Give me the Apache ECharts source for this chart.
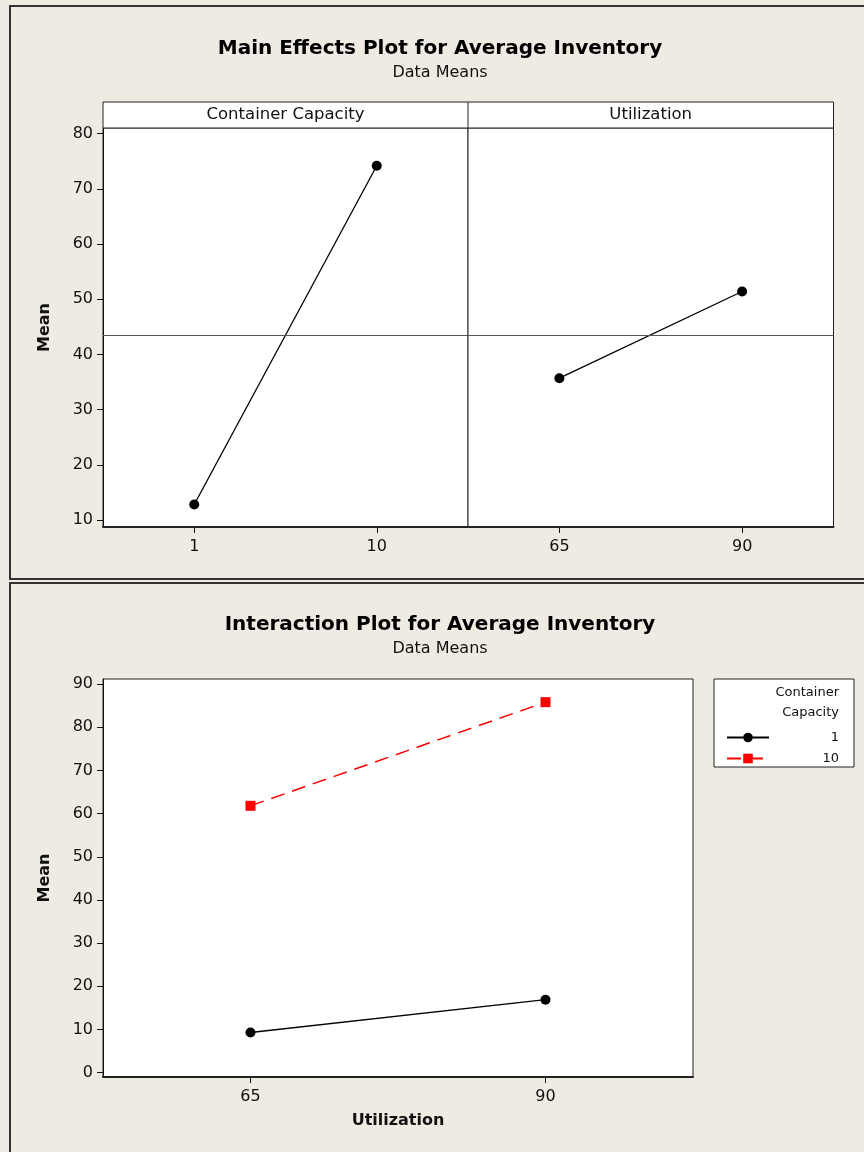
<!DOCTYPE html>
<html>
<head>
<meta charset="utf-8">
<script src="https://cdn.jsdelivr.net/npm/echarts@6/dist/echarts.min.js"></script>
<style>
html,body{margin:0;padding:0;background:#EFEBE2;}
#chart{width:864px;height:1152px;}
</style>
</head>
<body>
<div id="chart"></div>
<script>
// ---- data ----
const capacityLevels = ['1', '10'];
const capacityMeans = [12.8, 74.2];
const utilLevels = ['65', '90'];
const utilMeans = [35.7, 51.4];
const grandMean = 43.4;
const interLevels = ['65', '90'];
const interCap1 = [9.3, 16.9];
const interCap10 = [61.8, 85.8];
const yTicksMain = [10, 20, 30, 40, 50, 60, 70, 80];
const yTicksInter = [0, 10, 20, 30, 40, 50, 60, 70, 80, 90];
const panelNames = ['Container Capacity', 'Utilization'];
const legendNames = ['1', '10'];

const FONT = "'DejaVu Sans', Verdana, sans-serif";
const chart = echarts.init(document.getElementById('chart'), null, {renderer: 'canvas'});

const axisLabelStyle = {color: '#111', fontSize: 16, fontFamily: FONT};
function yAxis(gridIndex, min, max, ticks, show, name) {
  return {
    type: 'value', gridIndex, min, max, show,
    name: name || '', nameLocation: 'middle', nameGap: 50,
    nameTextStyle: {fontFamily: FONT, fontSize: 16, fontWeight: 'bold', color: '#111'},
    axisLine: {show: true, onZero: false, lineStyle: {color: '#111', width: 1}},
    axisTick: {show: true, length: 6, inside: false, customValues: ticks, lineStyle: {color: '#111'}},
    axisLabel: Object.assign({margin: 10, customValues: ticks}, axisLabelStyle),
    splitLine: {show: false}
  };
}
function xAxis(gridIndex, data, name) {
  return {
    type: 'category', gridIndex, data, boundaryGap: true,
    name: name || '', nameLocation: 'middle', nameGap: 36,
    nameTextStyle: {fontFamily: FONT, fontSize: 16, fontWeight: 'bold', color: '#111'},
    axisLine: {show: true, onZero: false, lineStyle: {color: '#222', width: 2}},
    axisTick: {show: true, alignWithLabel: true, length: 6, lineStyle: {color: '#111'}},
    axisLabel: Object.assign({margin: 12}, axisLabelStyle),
    splitLine: {show: false}
  };
}
const gridStyle = {show: true, backgroundColor: '#fff', borderColor: '#222', borderWidth: 1};
const refLine = {
  silent: true, symbol: 'none', label: {show: false},
  lineStyle: {color: '#555', type: 'solid', width: 1},
  data: [{yAxis: grandMean}]
};

const option = {
  backgroundColor: '#EFEBE2',
  animation: false,
  title: [
    {text: 'Main Effects Plot for Average Inventory', subtext: 'Data Means',
     left: 435, top: 34, textAlign: 'center', itemGap: 6,
     textStyle: {fontFamily: FONT, fontSize: 20, fontWeight: 'bold', color: '#000'},
     subtextStyle: {fontFamily: FONT, fontSize: 16, color: '#111'}},
    {text: 'Interaction Plot for Average Inventory', subtext: 'Data Means',
     left: 435, top: 610, textAlign: 'center', itemGap: 6,
     textStyle: {fontFamily: FONT, fontSize: 20, fontWeight: 'bold', color: '#000'},
     subtextStyle: {fontFamily: FONT, fontSize: 16, color: '#111'}}
  ],
  grid: [
    Object.assign({left: 103, top: 128, width: 365, height: 399}, gridStyle),
    Object.assign({left: 468, top: 128, width: 365.5, height: 399}, gridStyle),
    Object.assign({left: 103, top: 679, width: 590, height: 398}, gridStyle)
  ],
  xAxis: [
    xAxis(0, capacityLevels),
    xAxis(1, utilLevels),
    xAxis(2, interLevels, 'Utilization')
  ],
  yAxis: [
    yAxis(0, 8.73, 81.03, yTicksMain, true, 'Mean'),
    yAxis(1, 8.73, 81.03, yTicksMain, false),
    yAxis(2, -1.0, 91.16, yTicksInter, true, 'Mean')
  ],
  legend: {
    orient: 'vertical', left: 721, top: 726, itemGap: 8,
    itemWidth: 42, itemHeight: 12, align: 'left',
    data: legendNames,
    formatter: function (name) { return '{r|' + name + '}'; },
    textStyle: {fontFamily: FONT, fontSize: 13, color: '#111',
      rich: {r: {width: 65, align: 'right', fontFamily: FONT, fontSize: 13, color: '#111'}}}
  },
  series: [
    {type: 'line', xAxisIndex: 0, yAxisIndex: 0, data: capacityMeans,
     symbol: 'circle', symbolSize: 10, itemStyle: {color: '#000'},
     lineStyle: {color: '#000', width: 1.3}, markLine: refLine, z: 3},
    {type: 'line', xAxisIndex: 1, yAxisIndex: 1, data: utilMeans,
     symbol: 'circle', symbolSize: 10, itemStyle: {color: '#000'},
     lineStyle: {color: '#000', width: 1.3}, markLine: refLine, z: 3},
    {name: legendNames[0], type: 'line', xAxisIndex: 2, yAxisIndex: 2, data: interCap1,
     symbol: 'circle', symbolSize: 10, itemStyle: {color: '#000'},
     lineStyle: {color: '#000', width: 1.3}, z: 3},
    {name: legendNames[1], type: 'line', xAxisIndex: 2, yAxisIndex: 2, data: interCap10,
     symbol: 'rect', symbolSize: 10, itemStyle: {color: '#ff0000'},
     lineStyle: {color: '#ff0000', width: 1.5, type: [14, 8]}, z: 3}
  ],
  graphic: [
    {type: 'rect', shape: {x: 10, y: 6, width: 870, height: 573}, style: {fill: 'none', stroke: '#333', lineWidth: 2}, z: 0, silent: true},
    {type: 'rect', shape: {x: 10, y: 583, width: 870, height: 580}, style: {fill: 'none', stroke: '#333', lineWidth: 2}, z: 0, silent: true},
    {type: 'rect', shape: {x: 103, y: 102, width: 730.5, height: 26}, style: {fill: '#fff', stroke: '#222', lineWidth: 1}, z: 1, silent: true},
    {type: 'line', shape: {x1: 468, y1: 102, x2: 468, y2: 128}, style: {stroke: '#222', lineWidth: 1}, z: 2, silent: true},
    {type: 'text', x: 285.5, y: 115, style: {text: panelNames[0], fill: '#111', font: '16.5px ' + FONT, textAlign: 'center', textVerticalAlign: 'middle'}, z: 2, silent: true},
    {type: 'text', x: 650.7, y: 115, style: {text: panelNames[1], fill: '#111', font: '16.5px ' + FONT, textAlign: 'center', textVerticalAlign: 'middle'}, z: 2, silent: true},
    {type: 'rect', shape: {x: 714, y: 679, width: 140, height: 88}, style: {fill: '#fff', stroke: '#222', lineWidth: 1}, z: 1, silent: true},
    {type: 'text', x: 839, y: 693, style: {text: 'Container', fill: '#111', font: '13px ' + FONT, textAlign: 'right', textVerticalAlign: 'middle'}, z: 2, silent: true},
    {type: 'text', x: 839, y: 713, style: {text: 'Capacity', fill: '#111', font: '13px ' + FONT, textAlign: 'right', textVerticalAlign: 'middle'}, z: 2, silent: true}
  ]
};
chart.setOption(option);
</script>
</body>
</html>
